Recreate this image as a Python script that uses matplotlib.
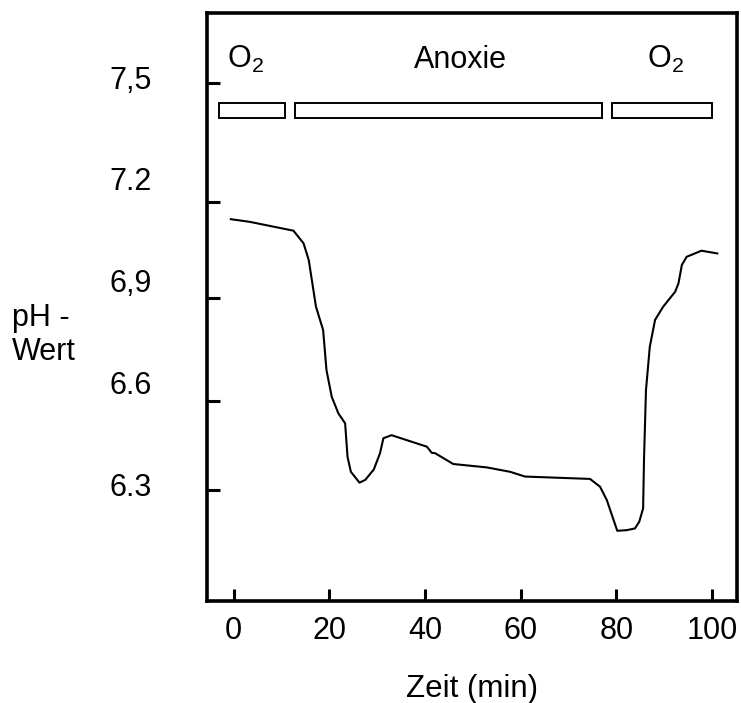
import matplotlib
matplotlib.use("Agg")
import matplotlib.pyplot as plt
import matplotlib.transforms as mtransforms
from matplotlib.patches import Rectangle

plt.rcParams['font.family'] = ['Liberation Sans', 'DejaVu Sans']
plt.rcParams['mathtext.fontset'] = 'custom'
plt.rcParams['mathtext.rm'] = 'Liberation Sans'
plt.rcParams['mathtext.it'] = 'Liberation Sans'

# ---- data ----
time_min = [-0.6, 3.4, 7.6, 12.5, 14.6, 15.7, 17.2, 18.7, 19.4, 20.5, 21.9, 23.3,
            23.8, 24.5, 26.3, 27.5, 29.3, 30.6, 31.3, 33.0, 40.4, 41.4, 42.1, 45.9,
            52.9, 57.8, 60.9, 74.5, 76.6, 78.0, 80.2, 82.2, 83.9, 84.8, 85.6, 85.8,
            86.2, 87.0, 88.1, 89.8, 92.3, 93.0, 93.7, 94.7, 97.8, 101.1]
ph_value = [7.081, 7.073, 7.061, 7.047, 7.010, 6.960, 6.823, 6.754, 6.636, 6.557, 6.508, 6.479,
            6.380, 6.336, 6.304, 6.312, 6.343, 6.391, 6.435, 6.444, 6.410, 6.392, 6.391, 6.359,
            6.349, 6.336, 6.322, 6.315, 6.292, 6.253, 6.162, 6.164, 6.169, 6.189, 6.228, 6.380,
            6.577, 6.705, 6.784, 6.823, 6.867, 6.892, 6.946, 6.970, 6.988, 6.980]

x_ticks = [0, 20, 40, 60, 80, 100]
y_label_values = [6.3, 6.6, 6.9, 7.2, 7.5]
y_tick_labels = ['6.3', '6.6', '6,9', '7.2', '7,5']
y_tick_marks = [6.282, 6.544, 6.849, 7.132, 7.483]

phase_names = ['O$_2$', 'Anoxie', 'O$_2$']
phase_starts = [-3.1, 12.8, 79.1]
phase_ends = [10.7, 77.0, 100.0]
phase_label_x = [2.4, 47.5, 90.2]

# ---- figure ----
fig = plt.figure(figsize=(7.41, 7.03), dpi=100)
ax = fig.add_axes([207/741, 1 - 601/703, 530/741, 588/703])

ax.plot(time_min, ph_value, color='black', lw=1.5, solid_joinstyle='round')

ax.set_xlim(-5.58, 105.23)
ax.set_ylim(5.955, 7.689)

for s in ax.spines.values():
    s.set_linewidth(2.6)
    s.set_color('black')

ax.set_xticks(x_ticks)
ax.set_xticklabels([str(v) for v in x_ticks])
ax.tick_params(axis='x', direction='in', length=9, width=2.2, pad=11, labelsize=22)

ax.set_yticks(y_label_values)
ax.set_yticklabels(y_tick_labels)
ax.tick_params(axis='y', which='major', length=0, pad=40, labelsize=22)
ax.set_yticks(y_tick_marks, minor=True)
ax.tick_params(axis='y', which='minor', direction='in', length=9, width=2.2)

ax.set_xlabel('Zeit (min)', fontsize=22.5, labelpad=20)

fig.text(12/741, 1 - 318/703, 'pH -', fontsize=22, ha='left', va='center')
fig.text(12/741, 1 - 352/703, 'Wert', fontsize=22, ha='left', va='center')

trans = mtransforms.blended_transform_factory(ax.transData, ax.transAxes)
bar_y0 = (601 - 118) / 588
bar_h = 15 / 588
for xs, xe, name, lx in zip(phase_starts, phase_ends, phase_names, phase_label_x):
    ax.add_patch(Rectangle((xs, bar_y0), xe - xs, bar_h, transform=trans,
                           facecolor='white', edgecolor='black', lw=1.4, clip_on=False))
    ax.text(lx, (601 - 68) / 588, name, transform=trans, ha='center', va='baseline',
            fontsize=22)

fig.savefig('out.png', dpi=100)
